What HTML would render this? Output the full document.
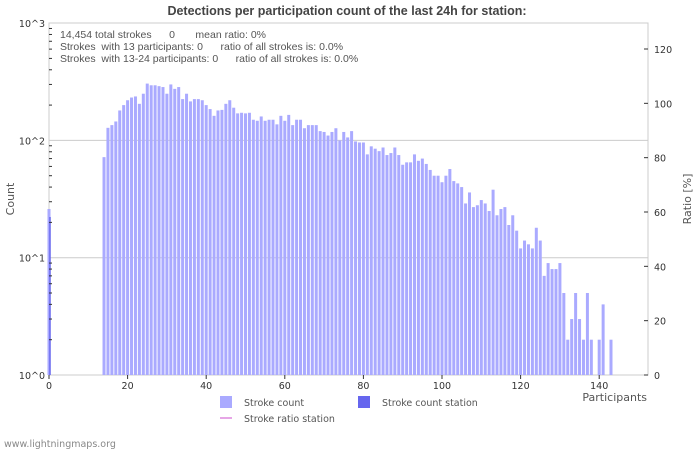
<!DOCTYPE html>
<html><head><meta charset="utf-8"><style>
body{margin:0;background:#fff;font-family:"DejaVu Sans","Liberation Sans",sans-serif}
svg text{font-family:"DejaVu Sans","Liberation Sans",sans-serif}
svg text.lib{font-family:"Liberation Sans",sans-serif}
.pre{white-space:pre}
</style></head><body>
<svg id="chart" width="700" height="450" xmlns="http://www.w3.org/2000/svg">
<rect width="700" height="450" fill="#fff"/>
<text class="lib" x="347" y="15" text-anchor="middle" font-size="12.5" font-weight="bold" fill="#444">Detections per participation count of the last 24h for station:</text>
<rect x="49" y="23" width="599" height="352" fill="none" stroke="#ccc"/>
<g id="grid"></g>
<g id="bars"></g>
<g id="axes"></g>
<g font-size="9.5" fill="#555">
<text class="lib pre" x="60" y="38" font-size="10.5">14,454 total strokes      0       mean ratio: 0%</text>
<text class="lib pre" x="60" y="50" font-size="10.5">Strokes  with 13 participants: 0      ratio of all strokes is: 0.0%</text>
<text class="lib pre" x="60" y="62" font-size="10.5">Strokes  with 13-24 participants: 0      ratio of all strokes is: 0.0%</text>
</g>
<text x="14" y="199" font-size="11" fill="#555" text-anchor="middle" transform="rotate(-90 14 199)">Count</text>
<text x="691" y="199" font-size="11" fill="#555" text-anchor="middle" transform="rotate(-90 691 199)">Ratio [%]</text>
<text x="647" y="401" font-size="11" fill="#555" text-anchor="end">Participants</text>
<rect x="220" y="396" width="12" height="12" fill="#aaf"/>
<text x="244" y="406" font-size="9.5" fill="#555">Stroke count</text>
<rect x="358" y="396" width="12" height="12" fill="#66e"/>
<text x="382" y="406" font-size="9.5" fill="#555">Stroke count station</text>
<line x1="220" y1="418" x2="232" y2="418" stroke="#d8d" stroke-width="1.5"/>
<text x="244" y="422" font-size="9.5" fill="#555">Stroke ratio station</text>
<text x="4" y="447" font-size="9.5" fill="#888">www.lightningmaps.org</text>
</svg>
<script>
const participants=[0,14,15,16,17,18,19,20,21,22,23,24,25,26,27,28,29,30,31,32,33,34,35,36,37,38,39,40,41,42,43,44,45,46,47,48,49,50,51,52,53,54,55,56,57,58,59,60,61,62,63,64,65,66,67,68,69,70,71,72,73,74,75,76,77,78,79,80,81,82,83,84,85,86,87,88,89,90,91,92,93,94,95,96,97,98,99,100,101,102,103,104,105,106,107,108,109,110,111,112,113,114,115,116,117,118,119,120,121,122,123,124,125,126,127,128,129,130,131,132,133,134,135,136,137,138,140,141,143];
const counts=[26,72,128,135,145,180,200,220,232,237,205,250,305,295,295,290,285,250,300,275,285,225,250,215,225,225,220,200,185,162,180,182,205,220,190,170,172,170,172,150,147,160,147,150,150,137,162,147,165,135,150,150,127,135,135,135,120,118,110,118,127,100,118,106,120,98,96,96,76,89,85,81,87,75,78,87,75,62,65,65,76,67,70,63,56,50,50,44,50,57,45,43,40,29,36,27,28,31,29,25,38,23,26,27,19,23,17,12,14,13,12,18,14,7,9,8,8,9,5,2,3,5,3,2,5,2,2,4,2];
const xTicks=[0,20,40,60,80,100,120,140];
const yTickLabels=["10^0","10^1","10^2","10^3"];
const y2Ticks=[0,20,40,60,80,100,120];
const NS="http://www.w3.org/2000/svg";
const X0=49,XS=3.93,YB=375,DEC=117.3;
const xs=v=>X0+v*XS;
const ys=v=>YB-Math.log10(v)*DEC;
const y2=v=>YB-v*(326/120);
function mk(tag,at,parent){const e=document.createElementNS(NS,tag);for(const k in at)e.setAttribute(k,at[k]);document.getElementById(parent).appendChild(e);return e;}
yTickLabels.forEach((l,i)=>{
 const y=YB-i*DEC;
 if(i>0&&i<3){const g=mk('line',{x1:X0,x2:648,y1:y,y2:y,stroke:'#ccc'},'grid');
 
 }
 const t=mk('text',{x:X0-4,y:y+4,'text-anchor':'end','font-size':9.5,fill:'#333'},'axes');t.textContent=l;
 
 
 if(i<3)for(let m=2;m<=9;m++){const yy=y-Math.log10(m)*DEC;mk('line',{x1:X0,x2:X0+3,y1:yy,y2:yy,stroke:'#333'},'axes');}
});
participants.forEach((p,i)=>{
 const r=mk('rect',{x:xs(p)-1.5,y:ys(counts[i]),width:3,height:YB-ys(counts[i]),fill:'#aaf'},'bars');
 
 
});
mk('line',{x1:X0+1,x2:X0+1,y1:217,y2:YB,stroke:'#66e',"stroke-width":1.5},'bars');
xTicks.forEach(v=>{
 mk('line',{x1:xs(v),x2:xs(v),y1:YB,y2:YB+4,stroke:'#333'},'axes');
 const t=mk('text',{x:xs(v),y:YB+14,'text-anchor':'middle','font-size':9.5,fill:'#333'},'axes');t.textContent=v;
 
 
});
y2Ticks.forEach(v=>{
 mk('line',{x1:644,x2:648,y1:y2(v),y2:y2(v),stroke:'#333'},'axes');
 const t=mk('text',{x:654,y:y2(v)+4,'font-size':9.5,fill:'#333'},'axes');t.textContent=v;
 
 
});
</script>
</body></html>
